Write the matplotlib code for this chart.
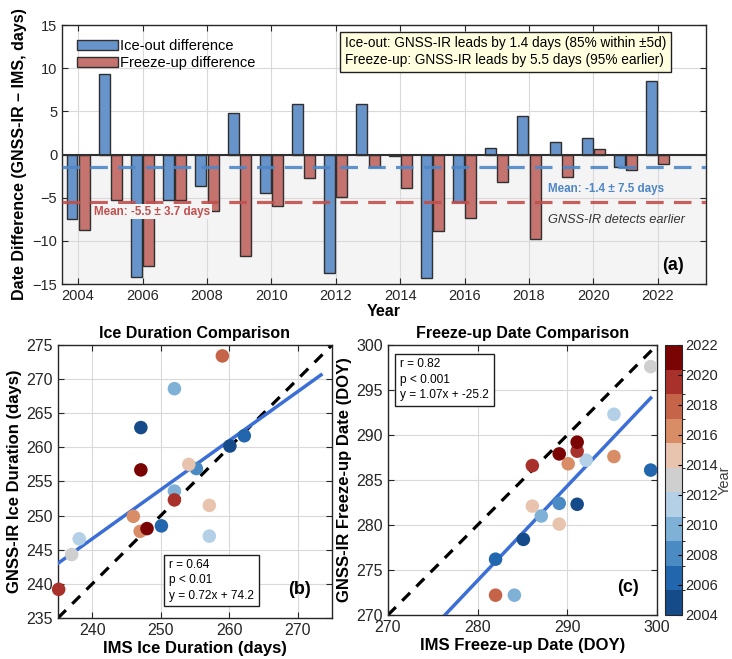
import matplotlib
matplotlib.use('Agg')
import matplotlib.pyplot as plt
from matplotlib.colors import ListedColormap, BoundaryNorm
import numpy as np

plt.rcParams['font.family'] = ['Liberation Sans', 'DejaVu Sans']

# --- data ---
years = np.arange(2004, 2023)
iceout_diff = [-7.5, 9.3, -14.2, -5.3, -3.7, 4.8, -4.4, 5.9, -13.7, 5.9,
               -0.2, -14.3, -5.5, 0.8, 4.5, 1.4, 1.9, -1.5, 8.5]
freeze_diff = [-8.7, -5.3, -12.9, -5.3, -6.5, -11.8, -6.0, -2.7, -4.9, -1.4,
               -3.9, -8.8, -7.4, -3.2, -9.8, -2.6, 0.6, -1.8, -1.1]
mean_iceout, sd_iceout = -1.4, 7.5
mean_freeze, sd_freeze = -5.5, 3.7

ims_dur = [247.1, 260.1, 250.1, 262.2, 255.2, 252.0, 252.0, 238.1, 257.1, 237.0,
           254.1, 257.1, 246.0, 247.0, 259.0, 235.1, 252.0, 247.1, 248.0]
gnss_dur = [262.9, 260.2, 248.5, 261.7, 256.9, 268.6, 253.6, 246.6, 247.0, 244.3,
            257.5, 251.5, 249.9, 247.7, 273.4, 239.2, 252.3, 256.7, 248.1]

ims_frz = [291.1, 285.1, 299.3, 282.0, 289.1, 287.1, 284.1, 295.2, 292.1, 299.3,
           286.1, 289.1, 295.2, 290.1, 282.0, 291.1, 286.1, 291.1, 289.1]
gnss_frz = [282.3, 278.4, 286.1, 276.2, 282.4, 281.0, 272.2, 292.3, 287.2, 297.6,
            282.1, 280.1, 287.6, 286.8, 272.2, 288.2, 286.6, 289.2, 287.9]

year_colors = ['#164b8a', '#2266ad', '#4a8bc4', '#7fb1d7', '#b3d0e6', '#cfcfcf',
               '#e8c4ae', '#d98d66', '#c6644a', '#a8322b', '#7a0403']
cmap = ListedColormap(year_colors)
norm = BoundaryNorm(np.linspace(2004, 2022, 12), cmap.N)

fig = plt.figure(figsize=(7.32, 6.59), dpi=100)

def style_axes(ax, fs):
    ax.tick_params(direction='in', top=True, right=True, labelsize=fs,
                   labelcolor='#262626', length=4, color='#262626')
    for s in ax.spines.values():
        s.set_color('#262626')
        s.set_linewidth(1.0)
    ax.grid(True, color='#d9d9d9', linewidth=0.8)
    ax.set_axisbelow(True)

# ---------------- (a) bar chart ----------------
ax = fig.add_axes([0.0847, 0.569, 0.880, 0.393])
ax.axhspan(-15, 0, color='#f4f4f4', zorder=0.2)
w = 0.34
ax.bar(years - 0.19, iceout_diff, w, color='#6794ca', edgecolor='#303030',
       linewidth=1.0, zorder=2, label='Ice-out difference')
ax.bar(years + 0.19, freeze_diff, w, color='#c4736e', edgecolor='#303030',
       linewidth=1.0, zorder=2, label='Freeze-up difference')
ax.axhline(0, color='#303030', linewidth=1.5, zorder=3)
ax.axhline(mean_iceout, color='#4f86c6', linewidth=2.3, dashes=(5.5, 3.2),
           alpha=0.9, zorder=4)
ax.axhline(mean_freeze, color='#c0504d', linewidth=2.3, dashes=(5.5, 3.2),
           alpha=0.9, zorder=4)
ax.set_xlim(2003.5, 2023.5)
ax.set_ylim(-15, 15)
ax.set_xticks(np.arange(2004, 2023, 2))
ax.set_yticks(np.arange(-15, 16, 5))
style_axes(ax, 10.5)
ax.set_xlabel('Year', fontsize=11.5, fontweight='bold', labelpad=1)
ax.set_ylabel('Date Difference (GNSS-IR \u2013 IMS, days)', fontsize=11.5,
              fontweight='bold', labelpad=4)
ax.text(2004.5, -6.6, 'Mean: %.1f \u00b1 %.1f days' % (mean_freeze, sd_freeze),
        color='#c0504d', fontsize=8.4, fontweight='bold', va='center', zorder=5,
        bbox=dict(facecolor='#f4f4f4', edgecolor='none', pad=1))
ax.text(2018.6, -4.0, 'Mean: %.1f \u00b1 %.1f days' % (mean_iceout, sd_iceout),
        color='#4f86c6', fontsize=8.4, fontweight='bold', va='center', zorder=5)
ax.text(2018.6, -7.6, 'GNSS-IR detects earlier', color='#333333', fontsize=9.2,
        style='italic', va='center', zorder=5)
ax.text(2022.8, -12.9, '(a)', fontsize=13, fontweight='bold', ha='right',
        va='center', zorder=5)
ax.text(2012.28, 11.9,
        'Ice-out: GNSS-IR leads by 1.4 days (85% within \u00b15d)\n'
        'Freeze-up: GNSS-IR leads by 5.5 days (95% earlier)',
        fontsize=9.8, va='center', ha='left', linespacing=1.25, zorder=6,
        bbox=dict(facecolor='#ffffe0', edgecolor='#202020', linewidth=1.0,
                  boxstyle='square,pad=0.35'))
leg = ax.legend(loc='upper left', bbox_to_anchor=(0.008, 0.985), fontsize=10.5,
                frameon=False, handlelength=2.8, handleheight=0.75,
                handletextpad=0.15, labelspacing=0.2, borderaxespad=0.3)

# ---------------- (b) ice duration ----------------
axb = fig.add_axes([0.0792, 0.0622, 0.3743, 0.4143])
lo, hi = 235, 275
axb.plot([lo, hi], [lo, hi], color='black', linestyle='--', linewidth=2.3,
         dashes=(3.5, 2.8), zorder=2)
kb = np.polyfit(ims_dur, gnss_dur, 1)
xb = np.array([min(min(ims_dur), min(gnss_dur)), max(max(ims_dur), max(gnss_dur))])
axb.plot(xb, np.polyval(kb, xb), color='#3b6fd6', linewidth=2.5, zorder=3)
axb.scatter(ims_dur, gnss_dur, c=years, cmap=cmap, norm=norm, s=95,
            edgecolors='none', zorder=4, clip_on=False)
axb.set_xlim(lo, hi)
axb.set_ylim(lo, hi)
axb.set_xticks(np.arange(240, 271, 10))
axb.set_yticks(np.arange(235, 276, 5))
style_axes(axb, 11.5)
axb.set_title('Ice Duration Comparison', fontsize=11.5, fontweight='bold', pad=5)
axb.set_xlabel('IMS Ice Duration (days)', fontsize=12, fontweight='bold', labelpad=2)
axb.set_ylabel('GNSS-IR Ice Duration (days)', fontsize=12, fontweight='bold', labelpad=3)
axb.text(0.405, 0.06, 'r = 0.64\np < 0.01\ny = 0.72x + 74.2', transform=axb.transAxes,
         fontsize=8.6, va='bottom', ha='left', linespacing=1.35, zorder=6,
         bbox=dict(facecolor='white', edgecolor='#202020', linewidth=1.0,
                   boxstyle='square,pad=0.4'))
axb.text(270.3, 239.2, '(b)', fontsize=13, fontweight='bold', ha='center',
         va='center', zorder=6)

# ---------------- (c) freeze-up date ----------------
axc = fig.add_axes([0.530, 0.0668, 0.3675, 0.4097])
lo, hi = 270, 300
axc.plot([lo, hi], [lo, hi], color='black', linestyle='--', linewidth=2.3,
         dashes=(3.5, 2.8), zorder=2)
kc = np.polyfit(ims_frz, gnss_frz, 1)
xc = np.array([min(min(ims_frz), min(gnss_frz)), max(max(ims_frz), max(gnss_frz))])
axc.plot(xc, np.polyval(kc, xc), color='#3b6fd6', linewidth=2.5, zorder=3)
sc = axc.scatter(ims_frz, gnss_frz, c=years, cmap=cmap, norm=norm, s=95,
                 edgecolors='none', zorder=4)
axc.set_xlim(lo, hi)
axc.set_ylim(lo, hi)
axc.set_xticks(np.arange(270, 301, 10))
axc.set_yticks(np.arange(270, 301, 5))
style_axes(axc, 11.5)
axc.set_title('Freeze-up Date Comparison', fontsize=11.5, fontweight='bold', pad=5)
axc.set_xlabel('IMS Freeze-up Date (DOY)', fontsize=12, fontweight='bold', labelpad=2)
axc.set_ylabel('GNSS-IR Freeze-up Date (DOY)', fontsize=12, fontweight='bold', labelpad=3)
axc.text(0.045, 0.95, 'r = 0.82\np < 0.001\ny = 1.07x + -25.2', transform=axc.transAxes,
         fontsize=8.6, va='top', ha='left', linespacing=1.35, zorder=6,
         bbox=dict(facecolor='white', edgecolor='#202020', linewidth=1.0,
                   boxstyle='square,pad=0.4'))
axc.text(296.8, 273.0, '(c)', fontsize=13, fontweight='bold', ha='center',
         va='center', zorder=6)

cax = fig.add_axes([0.9085, 0.0668, 0.0232, 0.4097])
cb = fig.colorbar(sc, cax=cax, ticks=np.arange(2004, 2023, 2))
cb.ax.tick_params(labelsize=10.5, labelcolor='#262626', direction='in', length=3,
                  pad=2)
cb.outline.set_edgecolor('#262626')
cb.set_label('Year', fontsize=10.5, color='#404040')
cb.ax.yaxis.set_label_coords(3.12, 0.5)

fig.savefig('out.png', dpi=100)
